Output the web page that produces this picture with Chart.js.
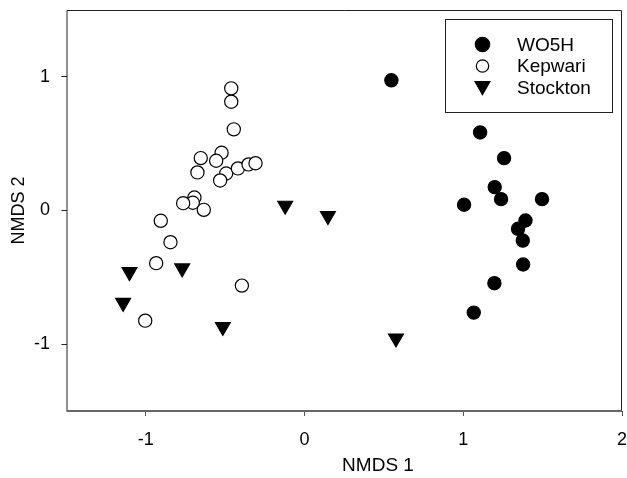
<!DOCTYPE html>
<html>
<head>
<meta charset="utf-8">
<script src="https://cdn.jsdelivr.net/npm/chart.js@4/dist/chart.umd.min.js"></script>
<style>
html,body{margin:0;padding:0;background:#fff;}
#wrap{width:627px;height:478px;}
</style>
</head>
<body>
<div id="wrap"><canvas id="c" width="627" height="478"></canvas></div>
<script>
const seriesNames = ["WO5H", "Kepwari", "Stockton"];

const wo5hX = [0.547, 1.106, 1.257, 1.198, 1.238, 1.496, 1.005, 1.392, 1.345, 1.375, 1.377, 1.196, 1.066];
const wo5hY = [0.974, 0.584, 0.392, 0.175, 0.085, 0.085, 0.043, -0.075, -0.137, -0.225, -0.404, -0.544, -0.764];

const kepwariX = [-0.462, -0.462, -0.446, -0.654, -0.523, -0.557, -0.675, -0.494, -0.532, -0.420, -0.353, -0.309, -0.694, -0.704, -0.765, -0.635, -0.906, -0.845, -0.935, -0.395, -1.004];
const kepwariY = [0.914, 0.814, 0.607, 0.392, 0.432, 0.372, 0.285, 0.277, 0.225, 0.315, 0.345, 0.354, 0.097, 0.058, 0.055, 0.005, -0.077, -0.237, -0.394, -0.562, -0.824];

const stocktonX = [-1.103, -0.771, -1.143, -0.515, -0.122, 0.147, 0.576];
const stocktonY = [-0.460, -0.432, -0.690, -0.870, 0.037, -0.040, -0.956];

const xTicks = [-1, 0, 1, 2];
const yTicks = [-1, 0, 1];
const xTitle = "NMDS 1";
const yTitle = "NMDS 2";

function pts(xs, ys){ return xs.map((x,i)=>({x:x, y:ys[i]})); }

const FONT = "'Liberation Sans', Arial, sans-serif";

const styles = [
  {pointStyle:'circle', radius:6.6, bg:'#000', border:'#000', rot:0, lr:7.2},
  {pointStyle:'circle', radius:6.6, bg:'#fff', border:'#000', rot:0, lr:6.2},
  {pointStyle:'triangle', radius:8.6, bg:'#000', border:'#000', rot:180, lr:8.6}
];

const frameAndLegend = {
  id:'frameAndLegend',
  afterDatasetsDraw(chart){
    const ctx = chart.ctx, a = chart.chartArea;
    ctx.save();
    ctx.strokeStyle = '#222';
    ctx.lineWidth = 1;
    ctx.beginPath();
    ctx.moveTo(a.left + 0.5, a.bottom);
    ctx.lineTo(a.left + 0.5, a.top + 0.5);
    ctx.lineTo(a.right - 0.5, a.top + 0.5);
    ctx.lineTo(a.right - 0.5, a.bottom);
    ctx.stroke();
    ctx.strokeStyle = '#666';
    ctx.lineWidth = 2;
    ctx.beginPath();
    ctx.moveTo(a.left, a.bottom);
    ctx.lineTo(a.right, a.bottom);
    ctx.stroke();

    // x axis title (offset to the right, as in the original figure)
    ctx.fillStyle = '#000';
    ctx.font = "19px " + FONT;
    ctx.textAlign = 'center';
    ctx.textBaseline = 'middle';
    ctx.fillText(xTitle, 378, 466);

    // legend box
    const bx = 445.5, by = 19.5, bw = 167, bh = 93;
    ctx.fillStyle = '#fff';
    ctx.fillRect(bx, by, bw, bh);
    ctx.strokeStyle = '#222';
    ctx.lineWidth = 1;
    ctx.strokeRect(bx, by, bw, bh);
    const rows = [44.5, 66, 87.5];
    ctx.font = "19px " + FONT;
    ctx.textBaseline = 'middle';
    ctx.textAlign = 'left';
    seriesNames.forEach((name, i) => {
      const s = styles[i];
      ctx.fillStyle = s.bg;
      ctx.strokeStyle = s.border;
      ctx.lineWidth = 1.2;
      Chart.helpers.drawPoint(ctx, {pointStyle:s.pointStyle, rotation:s.rot, radius:s.lr, borderWidth:1.2}, 482.5, rows[i] + (i===2 ? -1.5 : 0));
      ctx.fillStyle = '#000';
      ctx.fillText(name, 517, rows[i] + 1);
    });
    ctx.restore();
  }
};

const allData = [pts(wo5hX, wo5hY), pts(kepwariX, kepwariY), pts(stocktonX, stocktonY)];

new Chart(document.getElementById('c'), {
  type: 'scatter',
  data: {
    datasets: seriesNames.map((n, i) => ({
      label: n,
      data: allData[i],
      pointStyle: styles[i].pointStyle,
      pointRadius: styles[i].radius,
      pointHoverRadius: styles[i].radius,
      pointRotation: styles[i].rot,
      backgroundColor: styles[i].bg,
      borderColor: styles[i].border,
      borderWidth: 1.2
    }))
  },
  options: {
    responsive: false,
    animation: false,
    events: [],
    layout: { autoPadding: false, padding: { top: 10, right: 5, left: 0, bottom: 0 } },
    plugins: { legend: { display: false }, tooltip: { enabled: false } },
    scales: {
      x: {
        type: 'linear',
        min: -1.5, max: 2,
        afterBuildTicks(s){ s.ticks = xTicks.map(v => ({value:v})); },
        afterFit(s){ s.height = 67; s.paddingLeft = 0; s.paddingRight = 0; },
        grid: { drawOnChartArea: false, drawTicks: true, tickLength: 5, tickColor: '#555', tickWidth: 1 },
        border: { display: false },
        ticks: { color: '#000', font: { family: FONT, size: 18 }, padding: 13, maxRotation: 0 },
        title: { display: false, text: xTitle }
      },
      y: {
        type: 'linear',
        min: -1.5, max: 1.5,
        afterBuildTicks(s){ s.ticks = yTicks.map(v => ({value:v})); },
        afterFit(s){ s.width = 66.5; s.paddingTop = 0; s.paddingBottom = 0; },
        grid: { drawOnChartArea: false, drawTicks: true, tickLength: 5, tickColor: '#222', tickWidth: 1 },
        border: { display: false },
        ticks: { color: '#000', font: { family: FONT, size: 18 }, padding: 11.5 },
        title: { display: true, text: yTitle, color: '#000', font: { family: FONT, size: 18 }, padding: { top: 8, bottom: 0 } }
      }
    }
  },
  plugins: [frameAndLegend]
});
</script>
</body>
</html>
